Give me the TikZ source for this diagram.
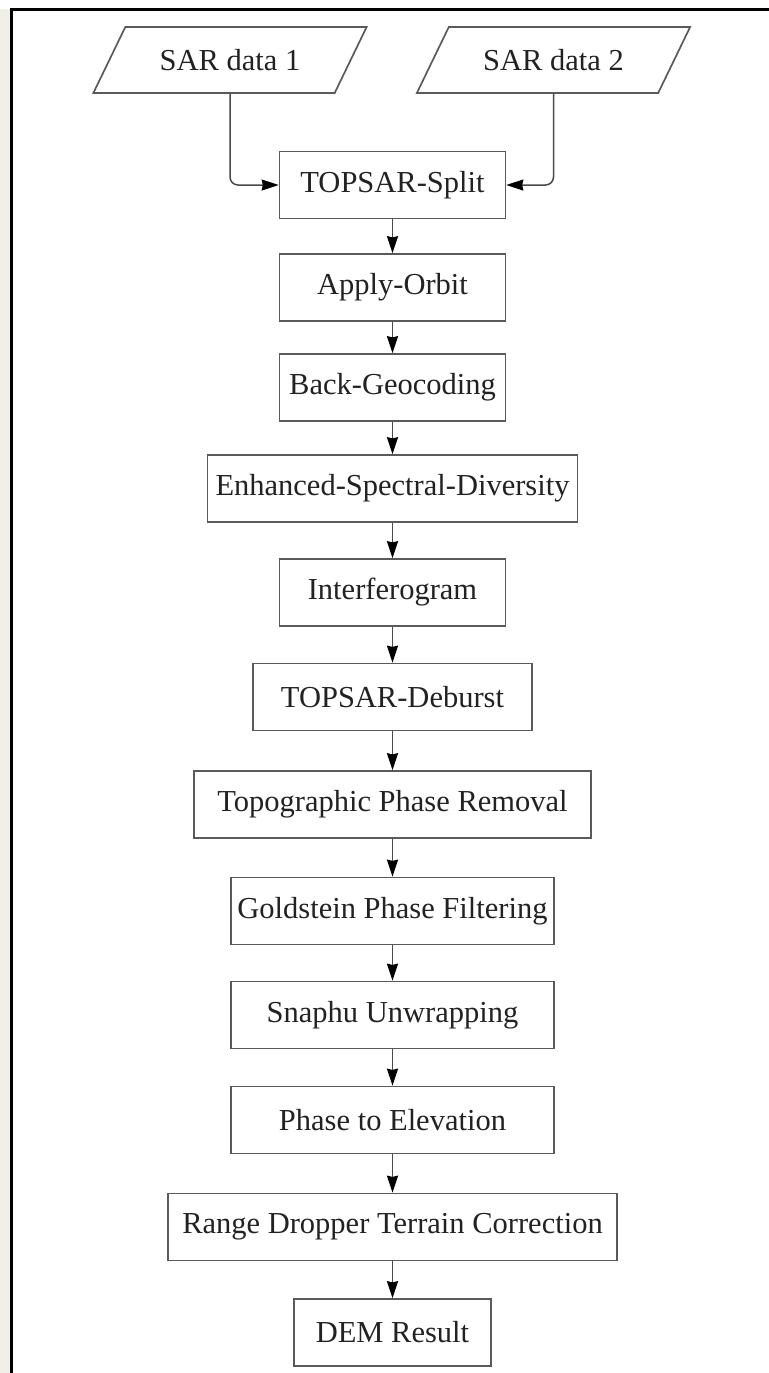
\documentclass[tikz,border=0pt]{standalone}
\usepackage{fontspec}
\setmainfont{Liberation Serif}
\usetikzlibrary{arrows.meta,shapes.geometric}
\definecolor{boxline}{HTML}{5A5A5A}
\definecolor{connline}{HTML}{4A4A4A}
\definecolor{txt}{HTML}{222222}
\definecolor{wm}{HTML}{F0F0E8}
\tikzset{
  labelfont/.style={text=txt, font=\fontsize{15.25}{18}\selectfont},
  procbox/.style={draw=boxline, line width=0.85pt, rectangle, minimum height=33.5pt, inner sep=0pt, labelfont},
  iobox/.style={draw=boxline, line width=0.85pt, trapezium, trapezium left angle=45, trapezium right angle=135, trapezium stretches=true, minimum width=138pt, minimum height=33pt, inner sep=0pt, labelfont},
  conn/.style={draw=connline, line width=0.75pt, -{Stealth[length=8.5pt,width=5.5pt,inset=0.6pt,color=black]}}
}
\begin{document}
\begin{tikzpicture}[x=0.5pt,y=-0.5pt]
\useasboundingbox (0,0) rectangle (769,1373);
\fill[wm] (0,9) rectangle (10,1373);
\draw[line width=1.5pt] (11.5,1373) -- (11.5,9) -- (769,9);

\node[iobox] (sar1) at (230,60) {SAR data 1};
\node[iobox] (sar2) at (553.5,60) {SAR data 2};

\node[procbox, minimum width=113pt] (split) at (392.5,185) {TOPSAR-Split};
\node[procbox, minimum width=113pt] (apply) at (392.5,287.5) {Apply-Orbit};
\node[procbox, minimum width=113pt] (back) at (392.5,387.5) {Back-Geocoding};
\node[procbox, minimum width=185pt] (enh) at (392.5,488.5) {Enhanced-Spectral-Diversity};
\node[procbox, minimum width=113pt] (interf) at (392.5,592.5) {Interferogram};
\node[procbox, minimum width=139.5pt] (deburst) at (392.5,697) {TOPSAR-Deburst};
\node[procbox, minimum width=198.5pt] (topo) at (392.5,804.5) {Topographic Phase Removal};
\node[procbox, minimum width=161.5pt] (gold) at (392.5,911) {Goldstein Phase Filtering};
\node[procbox, minimum width=161.5pt] (snaphu) at (392.5,1015) {Snaphu Unwrapping};
\node[procbox, minimum width=161.5pt] (phase) at (392.5,1120) {Phase to Elevation};
\node[procbox, minimum width=224.5pt] (range) at (392.5,1227) {Range Dropper Terrain Correction};
\node[procbox, minimum width=98.5pt] (dem) at (392.5,1332.5) {DEM Result};

\draw[conn, rounded corners=4pt] (sar1.center |- sar1.south) |- (split.west);
\draw[conn, rounded corners=4pt] (sar2.center |- sar2.south) |- (split.east);

\draw[conn] (split) -- (apply);
\draw[conn] (apply) -- (back);
\draw[conn] (back) -- (enh);
\draw[conn] (enh) -- (interf);
\draw[conn] (interf) -- (deburst);
\draw[conn] (deburst) -- (topo);
\draw[conn] (topo) -- (gold);
\draw[conn] (gold) -- (snaphu);
\draw[conn] (snaphu) -- (phase);
\draw[conn] (phase) -- (range);
\draw[conn] (range) -- (dem);
\end{tikzpicture}
\end{document}
